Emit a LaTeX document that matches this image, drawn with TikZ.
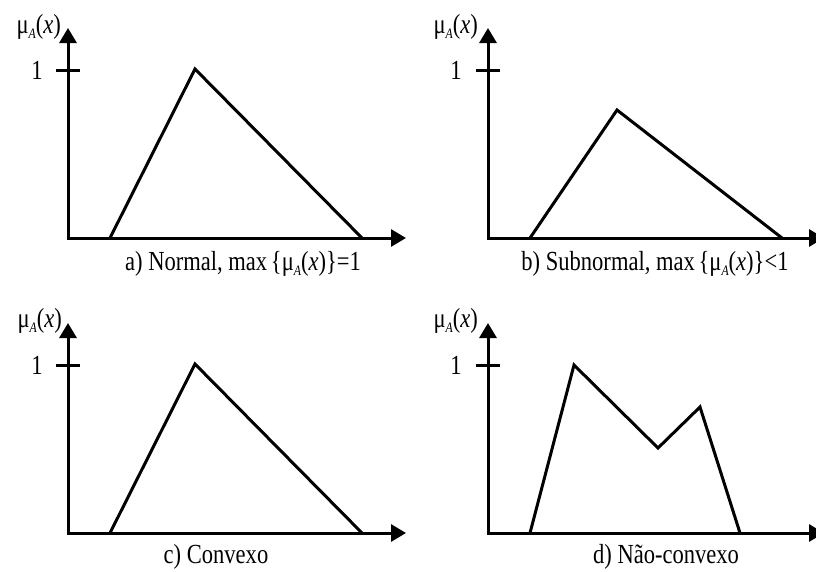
\documentclass[tikz,border=0pt]{standalone}
\usepackage{fontspec}
\setmainfont{Liberation Serif}
\usetikzlibrary{arrows.meta}
\newcommand{\muAx}{μ\raisebox{-0.35ex}{\fontsize{12}{12}\selectfont\itshape A}(\textit{x})}
\newcommand{\tallt}[1]{\scalebox{0.98}[1.2]{#1}}
\tikzset{
  axis/.style={line width=3pt, {Triangle[length=15pt,width=17pt]}-{Triangle[length=15pt,width=17pt]}},
  tickline/.style={line width=3pt},
  curve/.style={line width=3pt, line join=miter},
  lbl/.style={inner sep=0pt, font=\fontsize{23}{27}\selectfont},
}
\begin{document}
\begin{tikzpicture}[x=1pt,y=-1pt]
\useasboundingbox (0,0) rectangle (816,571);
\clip (0,0) rectangle (816,571);
% Panel a
\coordinate (ya) at (68,28); \coordinate (oa) at (68,238); \coordinate (xa) at (406,238);
\coordinate (ta1) at (56,70); \coordinate (ta2) at (80,70);
\coordinate (pa1) at (110,238); \coordinate (pa2) at (195,69); \coordinate (pa3) at (362,238);
\draw[axis] (ya) -- (oa) -- (xa);
\draw[tickline] (ta1) -- (ta2);
\draw[curve] (pa1) -- (pa2) -- (pa3);
\node[lbl, anchor=east] (la) at (61,27) {\tallt{\muAx}};
\node[lbl] (oneA) at (37,70) {\tallt{1}};
\node[lbl] (capA) at (243,264) {\tallt{a) Normal, max\,\{\muAx\}=1}};
% Panel b
\coordinate (yb) at (488,28); \coordinate (ob) at (488,238); \coordinate (xb) at (824,238);
\coordinate (tb1) at (476,70); \coordinate (tb2) at (500,70);
\coordinate (pb1) at (530,238); \coordinate (pb2) at (617,110); \coordinate (pb3) at (782,238);
\draw[axis] (yb) -- (ob) -- (xb);
\draw[tickline] (tb1) -- (tb2);
\draw[curve] (pb1) -- (pb2) -- (pb3);
\node[lbl, anchor=east] (lb) at (478,27) {\tallt{\muAx}};
\node[lbl] (oneB) at (456,70) {\tallt{1}};
\node[lbl] (capB) at (655,264) {\tallt{b) Subnormal, max\,\{\muAx\}<1}};
% Panel c
\coordinate (yc) at (68,323); \coordinate (oc) at (68,533); \coordinate (xc) at (406,533);
\coordinate (tc1) at (56,365); \coordinate (tc2) at (80,365);
\coordinate (pc1) at (110,533); \coordinate (pc2) at (195,364); \coordinate (pc3) at (362,533);
\draw[axis] (yc) -- (oc) -- (xc);
\draw[tickline] (tc1) -- (tc2);
\draw[curve] (pc1) -- (pc2) -- (pc3);
\node[lbl, anchor=east] (lc) at (62,321) {\tallt{\muAx}};
\node[lbl] (oneC) at (37,365) {\tallt{1}};
\node[lbl] (capC) at (216,557) {\tallt{c) Convexo}};
% Panel d
\coordinate (yd) at (488,323); \coordinate (od) at (488,533); \coordinate (xd) at (824,533);
\coordinate (td1) at (476,365); \coordinate (td2) at (500,365);
\coordinate (pd1) at (530,533); \coordinate (pd2) at (574,365); \coordinate (pd3) at (658,448);
\coordinate (pd4) at (700,407); \coordinate (pd5) at (740,533);
\draw[axis] (yd) -- (od) -- (xd);
\draw[tickline] (td1) -- (td2);
\draw[curve] (pd1) -- (pd2) -- (pd3) -- (pd4) -- (pd5);
\node[lbl, anchor=east] (ld) at (478,321) {\tallt{\muAx}};
\node[lbl] (oneD) at (456,365) {\tallt{1}};
\node[lbl] (capD) at (666,557) {\tallt{d) Não-convexo}};
\end{tikzpicture}
\end{document}
